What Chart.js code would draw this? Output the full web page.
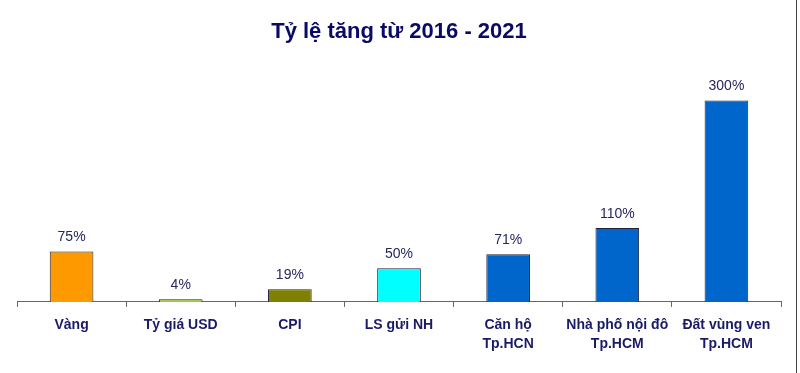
<!DOCTYPE html>
<html>
<head>
<meta charset="utf-8">
<script src="https://cdn.jsdelivr.net/npm/chart.js@4"></script>
<style>
  html, body { margin: 0; padding: 0; background: #fff; }
  #wrap { position: relative; width: 800px; height: 373px; }
  #edge { position: absolute; left: 796px; top: 0; width: 1px; height: 373px; background: #444; }
</style>
</head>
<body>
<div id="wrap">
  <canvas id="c" width="800" height="373"></canvas>
  <div id="edge"></div>
</div>
<script>
const titleText = 'Tỷ lệ tăng từ 2016 - 2021';
const categories = [
  'Vàng',
  'Tỷ giá USD',
  'CPI',
  'LS gửi NH',
  ['Căn hộ', 'Tp.HCN'],
  ['Nhà phố nội đô', 'Tp.HCM'],
  ['Đất vùng ven', 'Tp.HCM']
];
const values = [75, 4, 19, 50, 71, 110, 300];
const barColors = ['#FF9900', '#99CC33', '#808000', '#00FFFF', '#0066CC', '#0066CC', '#0066CC'];

const valueLabels = {
  id: 'valueLabels',
  afterDatasetsDraw(chart) {
    const ctx = chart.ctx;
    const meta = chart.getDatasetMeta(0);
    ctx.save();
    ctx.font = '14px "Liberation Sans", Arial, sans-serif';
    ctx.fillStyle = '#262660';
    ctx.textAlign = 'center';
    ctx.textBaseline = 'middle';
    meta.data.forEach((bar, i) => {
      ctx.fillText(values[i] + '%', bar.x, bar.y - 14);
    });
    ctx.restore();
  }
};

new Chart(document.getElementById('c'), {
  type: 'bar',
  data: {
    labels: categories,
    datasets: [{
      data: values,
      backgroundColor: barColors,
      borderColor: '#22223a',
      borderWidth: 1,
      barPercentage: 0.4,
      categoryPercentage: 1.0
    }]
  },
  options: {
    responsive: false,
    animation: false,
    devicePixelRatio: 1,
    layout: { padding: { left: 17, right: 19, top: 0, bottom: 10 } },
    plugins: {
      legend: { display: false },
      tooltip: { enabled: false },
      title: {
        display: true,
        text: titleText,
        color: '#0A0A66',
        font: { family: '"Liberation Sans", Arial, sans-serif', size: 22, weight: 'bold' },
        padding: { top: 19, bottom: 35 }
      }
    },
    scales: {
      x: {
        offset: true,
        grid: { display: true, drawOnChartArea: false, drawTicks: true, tickLength: 5, color: '#666', offset: true },
        border: { display: true, color: '#666', width: 1 },
        ticks: {
          color: '#1A1A66',
          padding: 9,
          maxRotation: 0,
          autoSkip: false,
          font: { family: '"Liberation Sans", Arial, sans-serif', size: 14, weight: 'bold', lineHeight: 1.36 }
        }
      },
      y: {
        display: false,
        min: 0,
        max: 330
      }
    }
  },
  plugins: [valueLabels]
});
</script>
</body>
</html>
